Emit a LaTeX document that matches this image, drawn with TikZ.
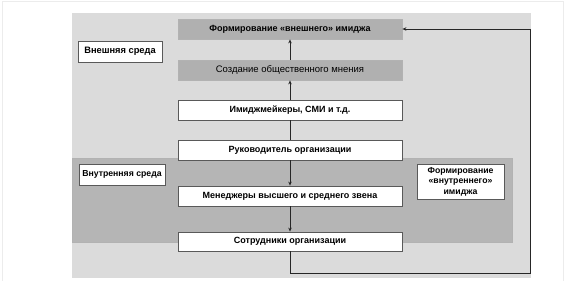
\documentclass[tikz,border=0pt]{standalone}
\usepackage{fontspec}
\setmainfont{Liberation Sans}
\usetikzlibrary{arrows.meta}
\definecolor{outerbg}{gray}{0.86}
\definecolor{innerbg}{gray}{0.71}
\definecolor{darkbox}{gray}{0.69}
\definecolor{edge}{gray}{0.35}
\tikzset{
  box/.style={draw=edge, line width=0.8pt, minimum width=224pt, minimum height=20pt, inner sep=0pt, font=\fontsize{9}{10}\selectfont\bfseries},
  whitebox/.style={box, fill=white},
  graybox/.style={box, fill=darkbox, draw=gray!60},
  labelbox/.style={draw=edge, line width=0.8pt, fill=white, inner sep=0pt, font=\fontsize{8.7}{10.5}\selectfont\bfseries, align=center},
  conn/.style={draw=black!85, line width=0.8pt},
  arr/.style={conn, -{Stealth[length=4pt,width=3.5pt]}}
}
\begin{document}
\begin{tikzpicture}[x=1pt,y=1pt]
\useasboundingbox (0,0) rectangle (564,-282);
\fill[white] (0,0) rectangle (564,-282);
\draw[gray!15, line width=0.6pt] (2,-1) -- (563,-1) -- (563,-281);
\draw[gray!15, line width=0.6pt] (2,-1) -- (2,-281);
\fill[outerbg] (72,-13) rectangle (531,-278);
\fill[innerbg] (72,-158) rectangle (512,-242);
\draw[gray!60, line width=0.5pt] (72,-158) rectangle (512,-242);

\node[graybox] (b1) at (290,-29) {Формирование «внешнего» имиджа};
\node[graybox, font=\fontsize{9.5}{10}\selectfont] (b2) at (290,-70) {Создание общественного мнения};
\node[whitebox] (b3) at (290,-110) {Имиджмейкеры, СМИ и т.д.};
\node[whitebox] (b4) at (290,-150) {Руководитель организации};
\node[whitebox] (b5) at (290,-196) {Менеджеры высшего и среднего звена};
\node[whitebox, minimum height=19pt] (b6) at (290,-241.5) {Сотрудники организации};

\node[labelbox, font=\fontsize{9.3}{10.5}\selectfont\bfseries, minimum width=84pt, minimum height=21pt] (ext) at (120,-51.5) {Внешняя среда};
\node[labelbox, minimum width=86pt, minimum height=21pt] (int) at (122,-174.5) {Внутренняя среда};
\node[labelbox, minimum width=87pt, minimum height=35pt] (intimg) at (460.5,-181.5) {Формирование\\«внутреннего»\\имиджа};

\draw[arr] (b2) -- (b1);
\draw[arr] (b3) -- (b2);
\draw[conn] (b4) -- (b3);
\draw[arr] (b4) -- (b5);
\draw[arr] (b5) -- (b6);

\coordinate (c1) at (290,-273);
\coordinate (c2) at (530,-273);
\coordinate (c3) at (530,-29);
\draw[arr] (b6.south) -- (c1) -- (c2) -- (c3) -- (b1.east);
\end{tikzpicture}
\end{document}
